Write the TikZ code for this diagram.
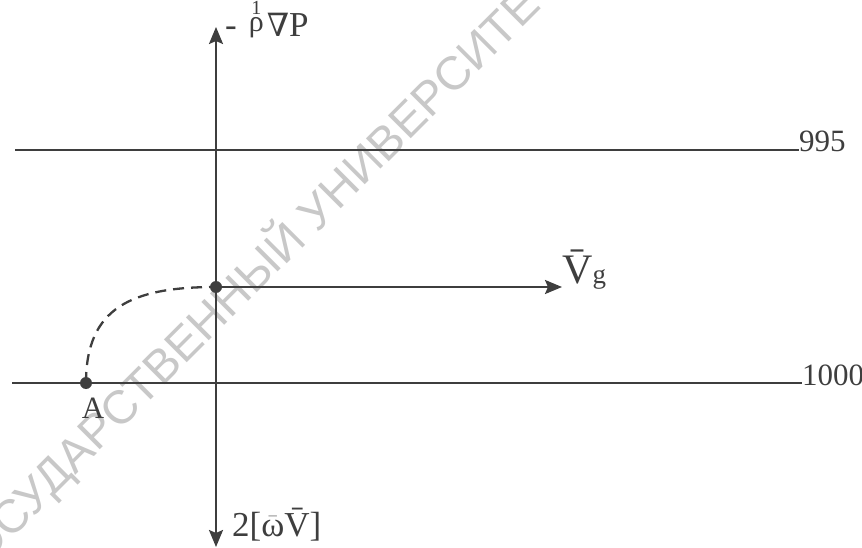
\documentclass[tikz,border=0pt]{standalone}
\usepackage{fontspec}
\setmainfont{Liberation Serif}
\newfontfamily\wmfont{Liberation Sans}
\newfontfamily\nablafont{DejaVu Serif}
\usepackage{amsmath}
\usetikzlibrary{arrows.meta,calc}
\definecolor{ink}{HTML}{3E3E3E}
\definecolor{wmgray}{HTML}{C8C8C8}
\tikzset{
  axisline/.style={line width=2.3pt,draw=ink},
  axisarr/.style={axisline,-{Stealth[length=17pt,width=14pt,inset=3pt]}},
  axisboth/.style={axisline,{Stealth[length=17pt,width=14pt,inset=3pt]}-{Stealth[length=17pt,width=14pt,inset=3pt]}},
  pathdash/.style={line width=2.3pt,draw=ink,dash pattern=on 11pt off 7pt},
  dotnode/.style={circle,fill=ink,inner sep=0pt,minimum size=12pt},
  lvllabel/.style={font=\fontsize{31}{34}\selectfont,text=ink,inner sep=0pt,anchor=base west},
  axlabel/.style={font=\fontsize{35}{38}\selectfont,text=ink,inner sep=0pt,anchor=base west},
  wmark/.style={font=\wmfont\fontsize{47}{50}\selectfont,text=wmgray,inner sep=0pt},
}
\begin{document}
\begin{tikzpicture}[x=1pt,y=-1pt]
  \useasboundingbox (0,0) rectangle (862,548);
  % watermark
  \node[wmark,rotate=45] (wm) at (254,273) {ГОСУДАРСТВЕННЫЙ УНИВЕРСИТЕТ};

  \coordinate (ytop) at (216,27);
  \coordinate (ybot) at (216,547);
  \coordinate (w995) at (15,150);
  \coordinate (w1000) at (12,383);

  \node[dotnode] (A) at (86,383) {};
  \node[dotnode] (g0) at (216,287) {};

  \node[lvllabel] (n995) at (799,152) {995};
  \node[lvllabel] (n1000) at (802,385) {1000};
  \node[lvllabel,anchor=base] (lA) at (93,418) {A};
  \node[axlabel] (grad) at (225,37) {-\hspace{10pt}%
      \rlap{\makebox[19pt]{\fontsize{20}{20}\selectfont\raisebox{22pt}{1}}}%
      \makebox[19pt]{\fontsize{30}{30}\selectfont\raisebox{5pt}{ρ}}%
      \hspace{1pt}{\nablafont\fontsize{32}{34}\selectfont ∇}P};
  \node[axlabel] (cor) at (232,536) {2[$\bar{\text{ω}}$\=V]};
  \node[inner sep=0pt,anchor=base west,text=ink] (vg) at (562,283)
    {{\fontsize{42}{44}\selectfont\=V}{\fontsize{27}{30}\selectfont g}};

  \draw[axisline] (w995) -- (w995 -| n995.west);
  \draw[axisline] (w1000) -- (w1000 -| n1000.west);
  \draw[axisboth] (ybot) -- (ytop);
  \draw[axisarr] (g0.center) -- (g0.center -| vg.west);
  \draw[pathdash] (A.center) .. controls (86,308) and (131,287) .. (g0.center);
\end{tikzpicture}
\end{document}
